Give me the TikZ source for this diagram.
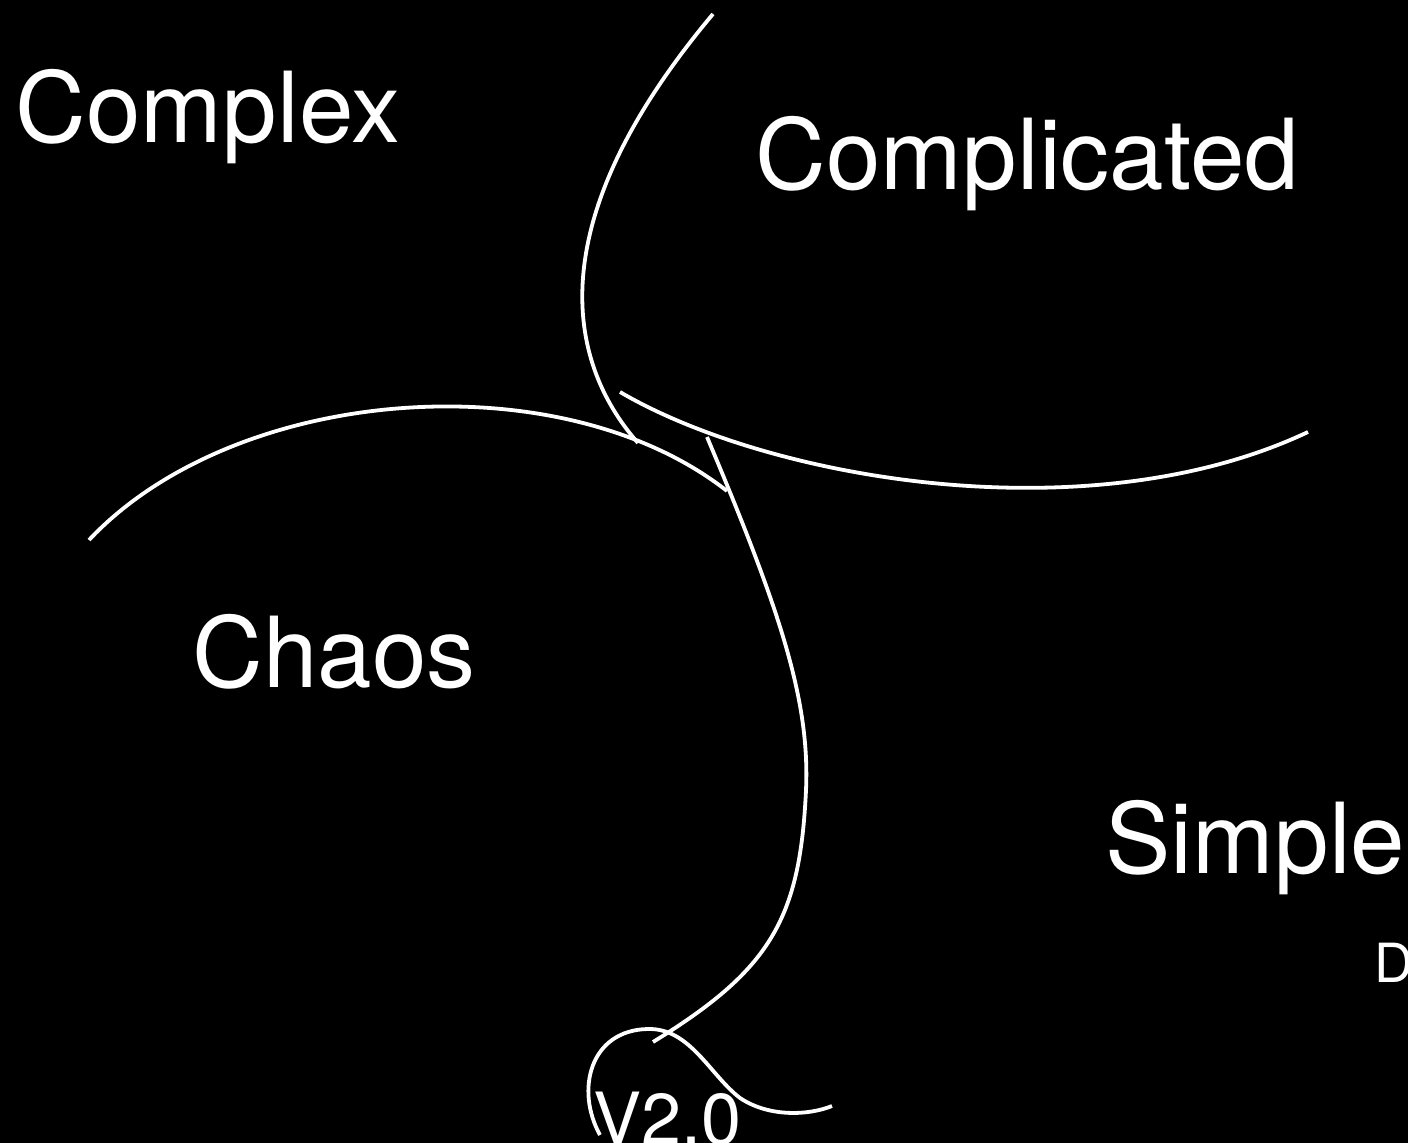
\documentclass[tikz,border=0pt]{standalone}
\usepackage{fontspec}
\setmainfont{TeX Gyre Heros}
\begin{document}
\begin{tikzpicture}[x=0.5pt,y=-0.5pt,
  divider/.style={draw=white,line width=1.9pt,line cap=butt},
  big/.style={text=white,anchor=base west,inner sep=0pt,font=\fontsize{49}{56}\selectfont},
  mid/.style={text=white,anchor=base west,inner sep=0pt,font=\fontsize{36}{42}\selectfont},
  small/.style={text=white,anchor=base west,inner sep=0pt,font=\fontsize{27}{32}\selectfont}]
\fill[black] (0,0) rectangle (1408,1143);
\useasboundingbox (0,0) rectangle (1408,1143);
% labels
\node[big] (complex) at (15,143) {Complex};
\node[big] (complicated) at (755,190) {Complicated};
\node[big] (chaos) at (192,688) {Chaos};
\node[big] (simple) at (1105,873) {Simple};
\node[small] (d) at (1374,982) {D};
\node[mid] (v) at (593,1144) {V2.0};
% dividers
\draw[divider] (713,14) .. controls (540,220) and (565,360) .. (638,443);
\draw[divider] (620,392) .. controls (770,480) and (1090,535) .. (1308,432);
\draw[divider] (89,540) .. controls (235,385) and (560,360) .. (727,491);
\draw[divider] (707,437) .. controls (780,610) and (810,700) .. (806,790)
  .. controls (800,920) and (770,970) .. (653,1042);
\draw[divider] (600,1135) .. controls (575,1090) and (590,1030) .. (648,1029)
  .. controls (690,1028) and (710,1075) .. (740,1098)
  .. controls (770,1118) and (810,1115) .. (832,1106);
\end{tikzpicture}
\end{document}
